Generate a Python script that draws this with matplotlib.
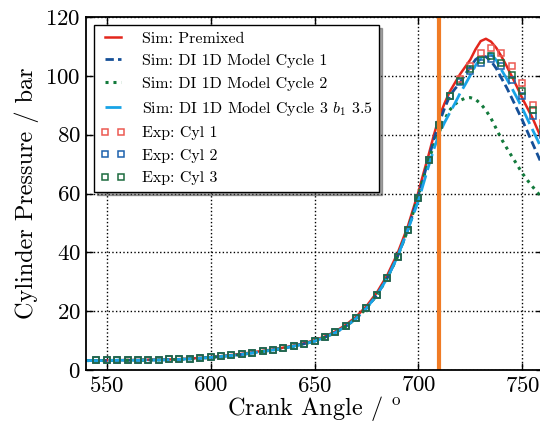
import numpy as np
import matplotlib
matplotlib.use("Agg")
import matplotlib.pyplot as plt

plt.rcParams["font.family"] = "cmr10"
plt.rcParams["mathtext.fontset"] = "cm"
plt.rcParams["axes.formatter.use_mathtext"] = True

# simulation grid (crank angle, deg)
ca_sim = [540, 545, 550, 555, 560, 565, 570, 575, 580, 585,
          590, 595, 600, 605, 610, 615, 620, 625, 630, 635,
          640, 645, 650, 655, 660, 665, 670, 675, 680, 685,
          690, 695,
          700, 702.5, 705, 707.5, 710, 712.5, 715, 717.5, 720, 722.5,
          725, 727.5, 730, 732.5, 735, 737.5, 740, 742.5, 745, 747.5,
          750, 752.5, 755, 757.5, 760]

sim_low_premixed = [3.3, 3.3, 3.3, 3.3, 3.4, 3.4, 3.5, 3.5, 3.6, 3.7,
                    3.9, 4.1, 4.4, 4.7, 5.1, 5.5, 6.0, 6.5, 7.0, 7.6,
                    8.3, 9.1, 10.1, 11.4, 13.1, 15.3, 18.1, 21.7, 26.3, 32.2,
                    39.7, 49.0]
sim_low_di = [3.2, 3.2, 3.2, 3.3, 3.3, 3.3, 3.4, 3.4, 3.5, 3.6,
              3.8, 4.0, 4.3, 4.6, 4.9, 5.3, 5.8, 6.3, 6.8, 7.4,
              8.1, 8.9, 9.8, 11.1, 12.7, 14.8, 17.5, 21.0, 25.5, 31.2,
              38.6, 47.8]

p_premixed = sim_low_premixed + [60.5, 67.0, 73.3, 80.0, 86.0, 90.5, 94.5, 97.5, 100.5, 103.0,
                                 105.5, 109.0, 111.8, 112.6, 111.6, 109.5, 106.6, 103.3, 99.8, 96.2,
                                 92.4, 89.0, 85.6, 81.5, 77.5]
p_cyc1 = sim_low_di + [59.3, 65.5, 72.0, 78.5, 84.0, 88.8, 93.0, 95.5, 97.5, 100.5,
                       103.0, 105.5, 106.8, 106.5, 105.0, 102.5, 99.2, 96.0, 92.4, 88.7,
                       85.0, 81.0, 77.0, 73.0, 69.0]
p_cyc2 = sim_low_di + [59.3, 65.5, 71.5, 76.5, 80.8, 85.0, 88.3, 90.3, 91.6, 92.4,
                       92.6, 92.0, 90.5, 88.3, 85.5, 82.0, 78.5, 75.5, 72.6, 69.8,
                       66.9, 64.5, 62.3, 60.2, 58.0]
p_cyc3 = sim_low_di + [57.5, 63.5, 69.5, 75.2, 80.2, 84.0, 87.3, 90.5, 94.0, 97.0,
                       100.2, 103.5, 106.0, 107.5, 107.5, 105.3, 102.0, 99.0, 95.8, 92.5,
                       89.0, 85.3, 81.6, 78.0, 74.0]

# experiment, every 5 deg
ca_exp = list(range(545, 765, 5))
exp_low = [3.3, 3.3, 3.3, 3.4, 3.4, 3.5, 3.5, 3.6, 3.7, 3.9,
           4.1, 4.4, 4.7, 5.1, 5.5, 5.9, 6.4, 6.9, 7.5, 8.2,
           8.9, 9.9, 11.2, 12.8, 14.9, 17.6, 21.1, 25.5, 31.2, 38.5,
           47.6, 58.6, 71.3, 83.3, 93.0]
p_cyl1 = exp_low + [98.8, 103.2, 107.7, 109.4, 107.7, 103.4, 97.5, 90.1, 84.0]
p_cyl2 = exp_low + [97.8, 101.8, 104.5, 105.7, 103.2, 98.6, 93.0, 86.2, 80.0]
p_cyl3 = exp_low + [98.3, 102.3, 105.4, 106.8, 104.5, 100.3, 94.7, 88.4, 82.0]

soi = 710

fig = plt.figure(figsize=(5.4, 4.23), dpi=100)
ax = fig.add_axes([0.1593, 0.1253, 0.8463, 0.8345])

ax.plot(ca_sim, p_premixed, color="#e3261c", lw=1.8, label="Sim: Premixed")
ax.plot(ca_sim, p_cyc1, color="#154f97", lw=2, ls=(0, (3, 1.5)), label="Sim: DI 1D Model Cycle 1")
ax.plot(ca_sim, p_cyc2, color="#137a3c", lw=2.2, ls=(0, (1, 1.6)), label="Sim: DI 1D Model Cycle 2")
ax.plot(ca_sim, p_cyc3, color="#18a3e6", lw=2, ls=(0, (6, 2)), label=r"Sim: DI 1D Model Cycle 3 $b_1$ 3.5")
ax.plot(ca_exp, p_cyl1, ls="none", marker="s", ms=5, mfc="none", mec="#ec5a52", mew=1.1, label="Exp: Cyl 1")
ax.plot(ca_exp, p_cyl2, ls="none", marker="s", ms=5, mfc="none", mec="#1d62ad", mew=1.1, label="Exp: Cyl 2")
ax.plot(ca_exp, p_cyl3, ls="none", marker="s", ms=5, mfc="none", mec="#1c6b3e", mew=1.1, label="Exp: Cyl 3")
ax.axvline(soi, color="#f07b25", lw=3)

ax.set_xlim(540, 760)
ax.set_ylim(0, 120)
ax.set_xticks([550, 600, 650, 700, 750])
ax.set_yticks([0, 20, 40, 60, 80, 100, 120])
ax.grid(True, color="k", ls=":", lw=1)
ax.tick_params(direction="in", top=True, right=True, labelsize=16.5, length=5, width=1, pad=4)
for s in ax.spines.values():
    s.set_linewidth(1.3)
ax.set_xlabel(r"Crank Angle / $^{\rm o}$", fontsize=17.5, labelpad=-1)
ax.set_ylabel("Cylinder Pressure / bar", fontsize=17.5, labelpad=4)

leg = ax.legend(loc="upper left", fontsize=11.5, numpoints=2, handlelength=1.6,
                handletextpad=1.0, labelspacing=0.52, fancybox=False, shadow=True,
                framealpha=1, edgecolor="k", borderaxespad=0.5)
leg.get_frame().set_linewidth(1)

fig.savefig("out.png", dpi=100)
